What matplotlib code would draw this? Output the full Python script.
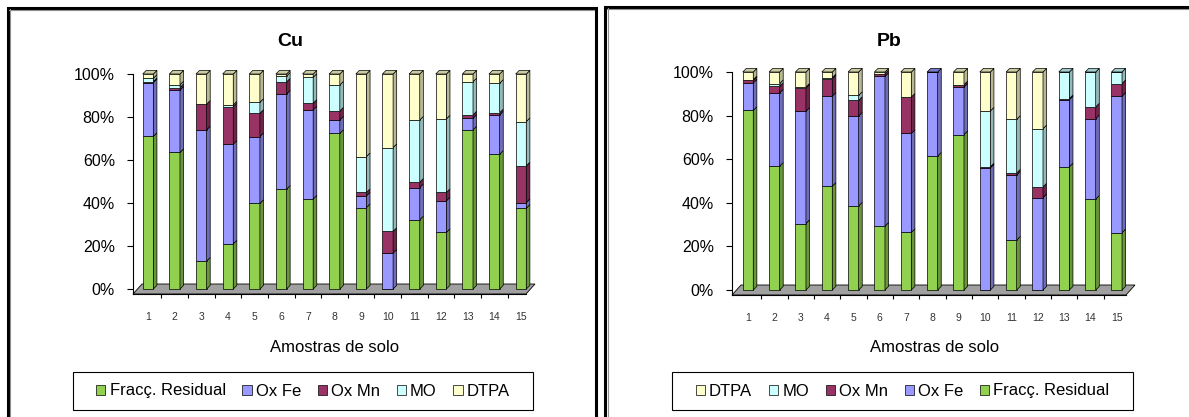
import numpy as np
import matplotlib
matplotlib.use("Agg")
import matplotlib.pyplot as plt
from matplotlib.patches import Polygon, Rectangle
from matplotlib.colors import to_rgb

plt.rcParams['font.family'] = ['Liberation Sans', 'DejaVu Sans']

W, H = 1189, 417

# Amostras e fracções (% de cada fracção no total)
amostras = list(range(1, 16))
fracoes = ["Fracç. Residual", "Ox Fe", "Ox Mn", "MO", "DTPA"]
cores = ["#92D050", "#9999FF", "#993366", "#CCFFFF", "#FFFFCC"]

cu_residual = [71.0, 63.5, 13.0, 21.0, 39.8, 46.4, 41.8, 72.4, 37.9, 0.0, 32.2, 26.3, 74.0, 62.7, 37.6]
cu_ox_fe    = [25.0, 29.0, 61.0, 46.3, 31.1, 44.3, 41.5, 6.2, 5.4, 16.7, 15.0, 14.7, 5.4, 18.3, 2.6]
cu_ox_mn    = [0.5, 1.2, 12.0, 17.5, 10.8, 5.6, 3.1, 4.2, 1.6, 10.1, 2.5, 3.9, 1.6, 1.0, 17.1]
cu_mo       = [1.5, 1.3, 0.0, 0.8, 5.1, 2.7, 12.1, 12.1, 16.7, 39.0, 28.9, 34.2, 15.4, 13.7, 20.6]
cu_dtpa     = [2.0, 5.0, 14.0, 14.4, 13.2, 1.0, 1.5, 5.1, 38.4, 34.2, 21.4, 20.9, 3.6, 4.3, 22.1]

pb_residual = [82.4, 56.8, 30.5, 47.6, 38.6, 29.3, 26.4, 61.4, 71.3, 0.0, 22.9, 0.0, 56.5, 41.7, 26.3]
pb_ox_fe    = [12.6, 33.6, 51.5, 41.3, 41.2, 68.7, 45.4, 38.6, 21.8, 56.0, 29.8, 42.4, 30.8, 36.9, 62.6]
pb_ox_mn    = [1.2, 3.0, 10.7, 8.0, 7.2, 1.2, 16.7, 0.0, 1.1, 0.5, 1.0, 4.9, 0.5, 5.4, 5.8]
pb_mo       = [0.3, 1.3, 0.4, 0.5, 2.3, 0.0, 0.0, 0.0, 0.0, 25.6, 24.6, 26.7, 12.2, 16.0, 5.3]
pb_dtpa     = [3.5, 5.3, 6.9, 2.6, 10.7, 0.8, 11.5, 0.0, 5.8, 17.9, 21.7, 26.0, 0.0, 0.0, 0.0]


def fig_xy(px, py):
    return px / W, 1 - py / H


def escurecer(cor, f):
    return tuple(c * f for c in to_rgb(cor))


def painel(fig, series, titulo, g, ordem_legenda):
    l, r, t, b, y0, x1, dxs = g
    ax = fig.add_axes([l / W, 1 - b / H, (r - l) / W, (b - t) / H])
    sy = (y0 - t) / 100.0
    ax.set_ylim(-(b - y0) / sy, 100)
    ax.set_xlim(1 - (x1 - l) / dxs, 1 + (r - x1) / dxs)
    ddx, ddy = 3.6 / dxs, 3.6 / sy
    fdx, fdy = 9 / dxs, 10 / sy
    xl, xr = ax.get_xlim()
    yb = ax.get_ylim()[0]

    # chão cinzento
    ax.add_patch(Polygon([(xl, yb), (xr - fdx, yb), (xr, yb + fdy), (xl + fdx, yb + fdy)],
                         closed=True, fc="#A0A0A0", ec="black", lw=0.6, zorder=1, clip_on=False))

    x = np.array(amostras, dtype=float)
    w = 0.4
    base = np.zeros(len(x))
    handles = []
    for nome, vals, cor in zip(fracoes, series, cores):
        vals = np.array(vals)
        hb = ax.bar(x, vals, w, bottom=base, color=cor, edgecolor="black", lw=0.5, zorder=3, label=nome)
        handles.append(hb)
        for xi, bi, hi in zip(x, base, vals):
            if hi <= 0:
                continue
            xs = xi + w / 2
            ax.add_patch(Polygon([(xs, bi), (xs + ddx, bi + ddy), (xs + ddx, bi + hi + ddy), (xs, bi + hi)],
                                 closed=True, fc=escurecer(cor, 0.72), ec="black", lw=0.5,
                                 zorder=3, clip_on=False))
        base = base + vals

    # face superior de cada barra
    tops = np.vstack(series)
    for i, xi in enumerate(x):
        k = max(j for j in range(len(fracoes)) if tops[j, i] > 0)
        yt = base[i]
        ax.add_patch(Polygon([(xi - w / 2, yt), (xi + w / 2, yt), (xi + w / 2 + ddx, yt + ddy),
                              (xi - w / 2 + ddx, yt + ddy)],
                             closed=True, fc=escurecer(cores[k], 0.8), ec="black", lw=0.5,
                             zorder=4, clip_on=False))

    for s in ["top", "right"]:
        ax.spines[s].set_visible(False)
    ax.spines["left"].set_linewidth(0.8)
    ax.spines["bottom"].set_visible(False)
    ax.patch.set_alpha(0)

    ax.set_yticks([0, 20, 40, 60, 80, 100])
    ax.set_yticklabels(["0%", "20%", "40%", "60%", "80%", "100%"], fontsize=11.5)
    ax.tick_params(axis="y", direction="out", length=4, width=0.8, pad=9)
    ax.set_xticks(x)
    ax.set_xticklabels([str(a) for a in amostras], fontsize=7.5, color="#333333")
    ax.tick_params(axis="x", which="major", length=0, pad=13)
    ax.set_xticks(np.arange(1.5, 15.0, 1.0), minor=True)
    ax.tick_params(axis="x", which="minor", direction="out", length=3, width=0.8)
    ax.plot([xl, xr - fdx], [yb, yb], color="black", lw=0.8, clip_on=False, zorder=2)

    cx = (l + r) / 2
    fig.text(*fig_xy(cx - 44, 41), titulo, fontsize=14, fontweight="bold",
             ha="center", va="center")
    fig.text(*fig_xy(cx + 1, 347), "Amostras de solo", fontsize=12, ha="center", va="center")

    # caixa da legenda
    lx0, lx1 = l - 60, r - 2
    fig.add_artist(Rectangle(fig_xy(lx0, 410), (lx1 - lx0) / W, 38 / H, transform=fig.transFigure,
                             fill=False, ec="black", lw=0.8))
    hs = [handles[fracoes.index(n)] for n in ordem_legenda]
    fig.legend(hs, ordem_legenda, loc="center", bbox_to_anchor=fig_xy((lx0 + lx1) / 2, 391),
               ncol=5, frameon=False, fontsize=12, handlelength=0.55, handleheight=0.55,
               handletextpad=0.25, columnspacing=1.0)
    return ax


fig = plt.figure(figsize=(W / 100, H / 100), dpi=100)

painel(fig, [cu_residual, cu_ox_fe, cu_ox_mn, cu_mo, cu_dtpa], "Cu",
       (133, 535, 74, 294, 289, 148, 26.64), fracoes)
painel(fig, [pb_residual, pb_ox_fe, pb_ox_mn, pb_mo, pb_dtpa], "Pb",
       (732, 1135, 72, 295, 290, 748, 26.34), fracoes[::-1])

# molduras dos dois gráficos
for x0, x1, yt in [(7.5, 595.5, 7.5), (605.5, 1205, 6.5)]:
    fig.add_artist(Rectangle(fig_xy(x0, 430), (x1 - x0) / W, (430 - yt) / H, transform=fig.transFigure,
                             fill=False, ec="black", lw=2.2))
    fig.add_artist(plt.Line2D([(x0 + 2.5) / W] * 2, [0, 1 - (yt + 1.5) / H], transform=fig.transFigure,
                              color="#909090", lw=0.8))
    fig.add_artist(plt.Line2D([(x0 + 1.5) / W, (x1 - 1.5) / W], [1 - (yt + 2.5) / H] * 2,
                              transform=fig.transFigure, color="#909090", lw=0.8))

fig.savefig("out.png", dpi=100)
